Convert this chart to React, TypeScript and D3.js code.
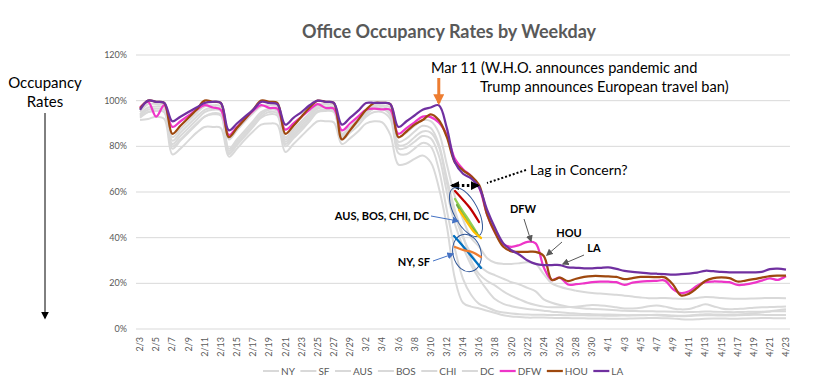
import React, { useEffect, useRef } from "react";
import * as d3 from "d3";

// categories: one point per day, 2/3 .. 4/23 (2020)
const firstDay = new Date(2020, 1, 3);
const lastDay = new Date(2020, 3, 24);
const days = d3.timeDay.range(firstDay, lastDay);
const dayLabels = days.map((d) => `${d.getMonth() + 1}/${d.getDate()}`);

const yTicks = [0, 20, 40, 60, 80, 100, 120];

// occupancy (%) per day
const ny = [91.5, 92, 93, 92, 76.5, 79, 82.5, 86, 88.5, 88.5, 88, 75.5, 79, 83, 86.5, 89.5, 90, 89.5, 77.5, 81, 84.5, 88, 91, 91, 90.5, 81, 83.5, 86.5, 90, 91, 90.5, 85,
  72, 72.5, 74.5, 76, 73, 62, 45, 22, 11.5, 9.8, 9, 8, 7, 6, 5.5, 5.3, 5, 5, 5, 4.9, 4.8, 4.8, 4.7, 4.7, 4.6, 4.6, 4.5, 4.5, 4.5, 4.6, 4.7, 4.8, 4.8, 4.7, 4.6, 4.3, 4.2, 4.3, 4.5, 4.6, 4.6, 4.5, 4.5, 4.6, 4.7, 4.8, 4.8, 4.7, 4.7];
const sf = [93, 95, 95.5, 95, 80, 83, 86.5, 90, 93, 94, 93.5, 76.5, 80.5, 84.5, 88.5, 92.5, 94, 93.5, 80, 83.5, 87, 91, 95, 95.5, 95, 83, 86, 89, 93, 95, 95, 92,
  77, 76.5, 79, 81.5, 80, 70, 52, 35, 22, 15, 11, 9.5, 8, 7.2, 6.8, 6.5, 6.3, 6.2, 6.2, 6.1, 6.1, 6, 6, 6, 5.9, 5.9, 5.8, 5.8, 5.9, 6, 6.1, 6.1, 6, 5.8, 5.7, 5.6, 5.7, 5.9, 6, 6, 5.9, 5.9, 6, 6.1, 6.2, 6.2, 6.1, 6.1, 6.1];
const aus = [95, 98.5, 98.5, 98, 84, 87.5, 91, 94.5, 97.5, 98, 97.5, 83, 87, 91, 94.5, 97.5, 98, 97.5, 84, 87.5, 91, 94.5, 98, 98.5, 98, 85, 88, 91.5, 95, 98, 98, 97,
  84, 86, 89, 91.5, 91, 86, 72, 58, 48, 40, 36, 31, 29, 28.5, 28.5, 28.8, 29.2, 28.5, 24, 20, 18.5, 17.5, 16.8, 16.2, 15.8, 15.5, 15.2, 15, 14.6, 14.2, 13.8, 13.5, 13.5, 13.6, 13.4, 13.2, 13.3, 13.6, 14, 13.9, 13.6, 13.4, 13.3, 13.3, 13.4, 13.5, 13.6, 13.6, 13.5];
const bos = [94, 97, 97.5, 97, 82.5, 86, 89.5, 93, 96, 97, 96.5, 78, 82, 86, 90, 94, 96, 95.5, 82, 85.5, 89, 92.5, 96.5, 97, 96.5, 84, 87, 90.5, 94, 96.5, 96.5, 94.5,
  80.5, 81, 84, 86.5, 86, 80, 64, 50, 40, 33, 28, 25, 23.5, 22, 20.5, 19.5, 18, 16.5, 13, 11.5, 10.5, 9.8, 9.3, 9, 8.8, 8.6, 8.4, 8.2, 8, 7.9, 7.8, 7.8, 7.7, 7.7, 7.6, 7.4, 7.4, 7.5, 7.7, 7.6, 7.5, 7.4, 7.4, 7.5, 7.6, 7.6, 7.7, 7.8, 7.8];
const chi = [93.5, 96, 96.5, 96, 81, 84.5, 88, 91.5, 95, 96, 95.5, 79, 83, 87, 91, 95, 96.5, 96, 83, 86.5, 90, 93.5, 97, 97.5, 97, 85.5, 88.5, 92, 95.5, 97.5, 97.5, 95.5,
  82, 83.5, 86.5, 89, 88, 81, 66, 52, 41, 30, 24, 21, 19, 16.5, 14.5, 13, 11.5, 10.5, 9.8, 9.5, 9.5, 9.6, 9.8, 10.2, 10.5, 10.3, 10, 9.5, 9, 9, 9.3, 10, 10.3, 9.8, 9, 8.6, 8.8, 9.8, 10.8, 10, 9, 8.6, 8.8, 9, 9.3, 9.5, 9.6, 9.7, 9.8];
const dc = [92.5, 95, 95.5, 95, 79, 82.5, 86, 89.5, 93, 94.5, 94, 77, 81, 85, 89, 93, 95, 94.5, 81, 84.5, 88, 91.5, 95.5, 96, 95.5, 84.5, 87.5, 91, 94.5, 96.5, 96.5, 93.5,
  79, 79.5, 82, 84.5, 83.5, 76, 60, 46, 36, 28, 22, 17, 13, 11, 10, 9.3, 8.8, 8.4, 8, 7.6, 7.3, 7, 6.8, 6.6, 6.5, 6.4, 6.3, 6.2, 6.1, 6, 6, 6.1, 6.2, 6.1, 5.9, 5.8, 5.9, 6.2, 6.5, 6.4, 6.3, 6.3, 6.4, 6.6, 6.9, 7.3, 7.7, 8.2, 8.6];
const dfw = [97, 99.5, 93, 98, 88.5, 91, 93.5, 96, 98, 97, 96, 85, 88.5, 92, 95.5, 98, 96.8, 96.5, 87.3, 90,
  93, 96, 98.5, 96.8, 96.5, 87, 90, 93, 96, 96.5, 96.2, 96, 85.5, 88, 90.5, 93, 92.8, 90.5, 85, 74.5,
  70, 67, 62, 50, 42, 37, 36, 36.8, 38.2, 37.5, 27, 21.5, 22.5, 19.5, 19.6, 20, 20.5, 20.7, 20.7, 20.5,
  19.3, 20.3, 20.8, 21, 21.1, 21.2, 17.5, 15.7, 16.5, 19, 20.5, 20.8, 20.7, 20.5, 19.3, 19.5, 20.2, 21.2, 22.2, 21.5, 23.2];
const hou = [96.5, 100, 99.5, 99, 85.5, 89, 92.5, 96, 100, 99.5, 99, 84, 88, 92, 96, 100, 99.5, 99, 85.5, 89,
  93, 97, 100, 99.5, 99, 83, 87, 91.5, 96, 99, 99, 98.5, 84, 86.5, 89.5, 91.5, 94, 91.5, 84, 73,
  69.5, 67, 63, 50, 42, 36, 34, 33.8, 33.8, 33.8, 32, 21.5, 22.5, 21, 22, 22.8, 23.2, 23.2, 23, 22.8,
  21.8, 22.3, 22.8, 22.8, 22.7, 22.6, 19.5, 14.7, 15.5, 18, 21, 22.3, 22.6, 22.3, 20.8, 21.2, 21.8, 22.5, 23.2, 23.4, 23.4];
const la = [96, 100, 99.5, 99, 91, 93, 95, 97, 99, 99.5, 99, 87, 90, 93, 96, 99.5, 99, 98.5, 89.5, 92.5,
  95, 98, 100, 99.5, 99, 89.5, 92.5, 95.5, 99, 99, 99, 98.5, 88.5, 91, 93.5, 96, 97, 98, 88, 73,
  68, 66, 62, 52, 44, 37.5, 34.5, 32.5, 30, 28.5, 28, 28, 28, 27, 26.8, 26.6, 26.6, 26.8, 27, 26.3,
  25.5, 25, 24.7, 24.4, 24.2, 24, 23.8, 24, 24.3, 24.7, 25.5, 25.3, 25, 24.8, 24.8, 24.8, 24.8, 25, 26.2, 26.4, 26];

const GRAY = "#d9d9d9";
const TXT = "#595959";
const FONT = "Lato, 'Open Sans', sans-serif";

const series = [
  { name: "NY", values: ny, color: GRAY, w: 2 },
  { name: "SF", values: sf, color: GRAY, w: 2 },
  { name: "AUS", values: aus, color: GRAY, w: 2 },
  { name: "BOS", values: bos, color: GRAY, w: 2 },
  { name: "CHI", values: chi, color: GRAY, w: 2 },
  { name: "DC", values: dc, color: GRAY, w: 2 },
  { name: "DFW", values: dfw, color: "#ee35c8", w: 2.25 },
  { name: "HOU", values: hou, color: "#9e480e", w: 2.25 },
  { name: "LA", values: la, color: "#7030a0", w: 2.25 },
];

const W = 827;
const H = 391;

const OccupancyChart = () => {
  const ref = useRef<SVGSVGElement>(null);

  useEffect(() => {
    if (!ref.current) return;
    const svg = d3.select(ref.current);
    svg.selectAll("*").remove();

    const x = d3.scalePoint<number>().domain(d3.range(days.length)).range([136, 790]).padding(0.5);
    const y = d3.scaleLinear().domain([0, 120]).range([329, 55]);

    // arrow heads
    const defs = svg.append("defs");
    const mk = (id: string, color: string, size: number) =>
      defs.append("marker")
        .attr("id", id)
        .attr("viewBox", "0 0 10 10")
        .attr("refX", 8).attr("refY", 5)
        .attr("markerWidth", size).attr("markerHeight", size)
        .attr("markerUnits", "userSpaceOnUse")
        .attr("orient", "auto-start-reverse")
        .append("path").attr("d", "M0,0L10,5L0,10z").attr("fill", color);
    mk("ah-black", "#000", 8);
    mk("ah-orange", "#ed7d31", 11);
    mk("ah-blue", "#4472c4", 7);
    mk("ah-gray", "#595959", 7);
    mk("ah-dot", "#000", 9);

    // title
    svg.append("text")
      .attr("x", 449).attr("y", 38)
      .attr("text-anchor", "middle")
      .attr("font-family", FONT).attr("font-weight", 700).attr("font-size", 18)
      .attr("fill", TXT)
      .text("Office Occupancy Rates by Weekday");

    // grid + y labels
    const g = svg.append("g");
    g.selectAll("line.grid").data(yTicks).join("line")
      .attr("class", "grid")
      .attr("x1", 136).attr("x2", 790)
      .attr("y1", (d) => y(d)).attr("y2", (d) => y(d))
      .attr("stroke", GRAY).attr("stroke-width", 1);
    g.selectAll("text.ylab").data(yTicks).join("text")
      .attr("class", "ylab")
      .attr("x", 127).attr("y", (d) => y(d)).attr("dy", "0.35em")
      .attr("text-anchor", "end")
      .attr("font-family", FONT).attr("font-size", 9).attr("fill", TXT)
      .text((d) => `${d}%`);

    // x labels (every other day)
    g.selectAll("text.xlab").data(d3.range(0, days.length, 2)).join("text")
      .attr("class", "xlab")
      .attr("transform", (i) => `translate(${x(i)},337) rotate(-90)`)
      .attr("dy", "0.35em")
      .attr("text-anchor", "end")
      .attr("font-family", FONT).attr("font-size", 9).attr("fill", TXT)
      .text((i) => dayLabels[i]);

    // lines
    const line = d3.line<number>()
      .x((_, i) => x(i) as number)
      .y((d) => y(d))
      .curve(d3.curveCatmullRom.alpha(0.5));
    svg.append("g").selectAll("path").data(series).join("path")
      .attr("d", (s) => line(s.values))
      .attr("fill", "none")
      .attr("stroke", (s) => s.color)
      .attr("stroke-width", (s) => s.w)
      .attr("stroke-linejoin", "round");

    // legend
    const leg = svg.append("g");
    let lx = 263;
    series.forEach((s) => {
      leg.append("line")
        .attr("x1", lx).attr("x2", lx + 16).attr("y1", 371).attr("y2", 371)
        .attr("stroke", s.color).attr("stroke-width", s.w);
      const t = leg.append("text")
        .attr("x", lx + 18).attr("y", 371).attr("dy", "0.35em")
        .attr("font-family", FONT).attr("font-size", 10).attr("fill", TXT)
        .text(s.name);
      lx += 18 + (t.node() as SVGTextElement).getComputedTextLength() + 5.5;
    });

    // left "Occupancy Rates" note
    const note = svg.append("g").attr("font-family", FONT).attr("font-size", 15).attr("fill", "#000");
    note.append("text").attr("x", 45).attr("y", 88).attr("text-anchor", "middle").text("Occupancy");
    note.append("text").attr("x", 45).attr("y", 107).attr("text-anchor", "middle").text("Rates");
    note.append("line").attr("x1", 45).attr("x2", 45).attr("y1", 113).attr("y2", 318)
      .attr("stroke", "#000").attr("stroke-width", 1).attr("marker-end", "url(#ah-black)");

    // annotations
    const ann = svg.append("g").attr("font-family", FONT);
    ann.append("text").attr("x", 431).attr("y", 73).attr("font-size", 14.6).text("Mar 11 (W.H.O. announces pandemic and");
    ann.append("text").attr("x", 480).attr("y", 92).attr("font-size", 14.6).text("Trump announces European travel ban)");
    ann.append("line")
      .attr("x1", x(37) as number).attr("x2", x(37) as number).attr("y1", 78).attr("y2", 103)
      .attr("stroke", "#ed7d31").attr("stroke-width", 3).attr("marker-end", "url(#ah-orange)");

    ann.append("text").attr("x", 530).attr("y", 175).attr("font-size", 14).text("Lag in Concern?");
    ann.append("line")
      .attr("x1", 526).attr("y1", 170).attr("x2", 487).attr("y2", 183)
      .attr("stroke", "#000").attr("stroke-width", 2).attr("stroke-dasharray", "2,2");
    ann.append("line")
      .attr("x1", (x(38) as number) + 5).attr("y1", y(62.8))
      .attr("x2", (x(42) as number) - 1).attr("y2", y(62.8))
      .attr("stroke", "#000").attr("stroke-width", 3).attr("stroke-dasharray", "2.5,2.5")
      .attr("marker-start", "url(#ah-dot)").attr("marker-end", "url(#ah-dot)");

    // ellipses with slope sketches
    const e1x = 466, e1y = 212;
    ann.append("ellipse").attr("cx", 0).attr("cy", 0).attr("rx", 27).attr("ry", 12)
      .attr("transform", `translate(${e1x},${e1y}) rotate(62)`)
      .attr("fill", "none").attr("stroke", "#2f5597").attr("stroke-width", 1);
    const e2x = 467, e2y = 253;
    ann.append("ellipse").attr("cx", 0).attr("cy", 0).attr("rx", 19).attr("ry", 14)
      .attr("transform", `translate(${e2x},${e2y}) rotate(75)`)
      .attr("fill", "none").attr("stroke", "#2f5597").attr("stroke-width", 1);

    const sketch = d3.line<[number, number]>().curve(d3.curveCatmullRom);
    const strokes: { c: string; p: [number, number][] }[] = [
      { c: "#c00000", p: [[455, 191], [464, 201], [470, 208], [479, 222]] },
      { c: "#92d050", p: [[455, 199], [462, 210], [470, 222], [477, 233]] },
      { c: "#70ad47", p: [[457, 205], [465, 218], [472, 228], [479, 236]] },
      { c: "#ffc000", p: [[459, 210], [467, 222], [474, 232], [481, 238]] },
      { c: "#0070c0", p: [[454, 236], [462, 245], [472, 257], [481, 268]] },
      { c: "#ed7d31", p: [[455, 247], [463, 250], [472, 252], [481, 257]] },
    ];
    strokes.forEach((s) =>
      ann.append("path").attr("d", sketch(s.p)).attr("fill", "none")
        .attr("stroke", s.c).attr("stroke-width", 2.25).attr("stroke-linecap", "round"));

    ann.append("text").attr("x", 429).attr("y", 220).attr("text-anchor", "end")
      .attr("font-size", 11).attr("font-weight", 700).text("AUS, BOS, CHI, DC");
    ann.append("line").attr("x1", 431).attr("y1", 216).attr("x2", 458).attr("y2", 221)
      .attr("stroke", "#4472c4").attr("stroke-width", 1).attr("marker-end", "url(#ah-blue)");
    ann.append("text").attr("x", 430).attr("y", 266).attr("text-anchor", "end")
      .attr("font-size", 11).attr("font-weight", 700).text("NY, SF");
    ann.append("line").attr("x1", 433).attr("y1", 261).attr("x2", 453).attr("y2", 254)
      .attr("stroke", "#4472c4").attr("stroke-width", 1).attr("marker-end", "url(#ah-blue)");

    const callouts = [
      { t: "DFW", tx: 523, ty: 213, a: [524, 219, 531, 241] },
      { t: "HOU", tx: 569, ty: 237, a: [562, 242, 547, 255] },
      { t: "LA", tx: 594, ty: 252, a: [584, 255, 563, 264] },
    ];
    callouts.forEach((c) => {
      ann.append("text").attr("x", c.tx).attr("y", c.ty).attr("text-anchor", "middle")
        .attr("font-size", 11).attr("font-weight", 700).text(c.t);
      ann.append("line").attr("x1", c.a[0]).attr("y1", c.a[1]).attr("x2", c.a[2]).attr("y2", c.a[3])
        .attr("stroke", "#595959").attr("stroke-width", 1).attr("marker-end", "url(#ah-gray)");
    });
  }, []);

  return (
    <div style={{ position: "absolute", left: 0, top: 0 }}>
      <svg ref={ref} width={W} height={H} style={{ background: "#fff" }} />
    </div>
  );
};

export default function App() {
  return <OccupancyChart />;
}
